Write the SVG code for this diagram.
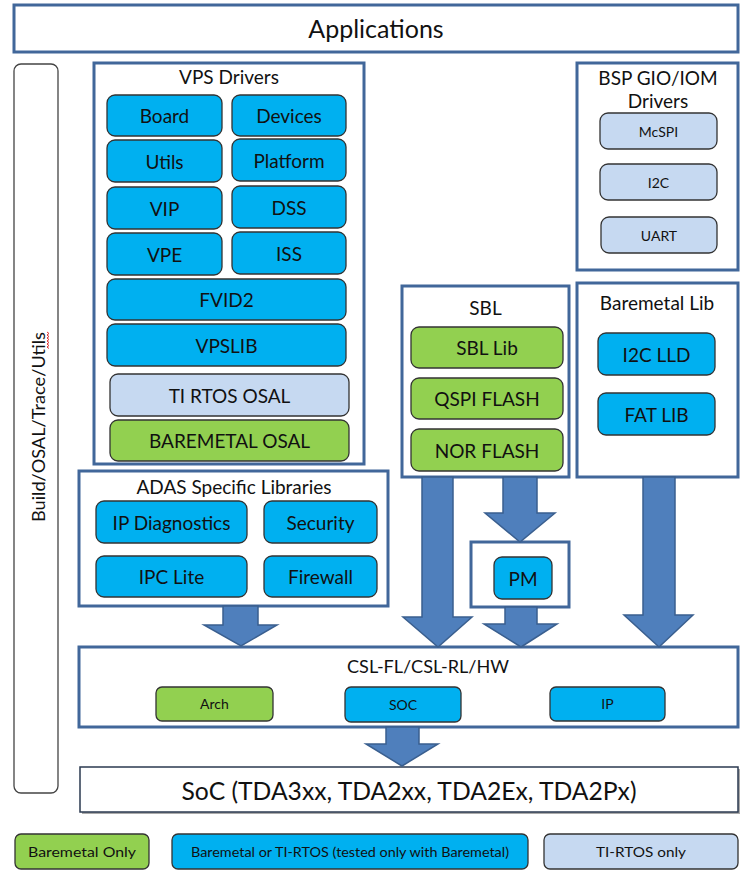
<svg xmlns="http://www.w3.org/2000/svg" width="740" height="870" viewBox="0 0 740 870">
<style>
  text { font-family: Lato, "Open Sans", "Liberation Sans", sans-serif; fill: #111; text-anchor: middle; dominant-baseline: central; }
  .cont { fill: #fff; stroke: #41679a; stroke-width: 3; }
  .node { stroke: #333; stroke-width: 1.3; }
  .blue { fill: #00b0f0; }
  .green { fill: #92d050; }
  .lite { fill: #c6d9f1; }
  .t17 { font-size: 19px; }
  .t14 { font-size: 14px; }
  .title { font-size: 19px; }
  .arrow { fill: #4f7fbc; stroke: #3a5f8f; stroke-width: 1.5; }
</style>

<g id="applications">
  <rect class="cont" x="14" y="5" width="724" height="47"/>
  <text x="376" y="28" style="font-size:25px">Applications</text>
</g>

<g id="build-utils">
  <rect x="14" y="64" width="44" height="729" rx="7" fill="#fff" stroke="#444" stroke-width="1.3"/>
  <text transform="translate(38,427) rotate(-90)" style="font-size:17px" textLength="190" lengthAdjust="spacingAndGlyphs">Build/OSAL/Trace/Utils</text>
  <path d="M47,332 l2,1.5 l-2,1.5 l2,1.5 l-2,1.5 l2,1.5 l-2,1.5 l2,1.5 l-2,1.5 l2,1.5 l-2,1.5 l2,1.5" fill="none" stroke="#e03030" stroke-width="1"/>
</g>

<g id="vps-drivers">
  <rect class="cont" x="94" y="63" width="270" height="401"/>
  <text class="title" x="229" y="76">VPS Drivers</text>
</g>
<g id="board"><rect class="node blue" x="107" y="95" width="115" height="41" rx="8"/><text class="t17" x="164.5" y="115.5">Board</text></g>
<g id="devices"><rect class="node blue" x="232" y="95" width="114" height="41" rx="8"/><text class="t17" x="289" y="115.5">Devices</text></g>
<g id="utils"><rect class="node blue" x="107" y="140" width="115" height="42" rx="8"/><text class="t17" x="164.5" y="161">Utils</text></g>
<g id="platform"><rect class="node blue" x="232" y="139" width="114" height="42" rx="8"/><text class="t17" x="289" y="160">Platform</text></g>
<g id="vip"><rect class="node blue" x="107" y="187" width="115" height="42" rx="8"/><text class="t17" x="164.5" y="208">VIP</text></g>
<g id="dss"><rect class="node blue" x="232" y="186" width="114" height="42" rx="8"/><text class="t17" x="289" y="207">DSS</text></g>
<g id="vpe"><rect class="node blue" x="107" y="233" width="115" height="42" rx="8"/><text class="t17" x="164.5" y="254">VPE</text></g>
<g id="iss"><rect class="node blue" x="232" y="232" width="114" height="42" rx="8"/><text class="t17" x="289" y="253">ISS</text></g>
<g id="fvid2"><rect class="node blue" x="107" y="279" width="239" height="41" rx="8"/><text class="t17" x="226.5" y="299.5">FVID2</text></g>
<g id="vpslib"><rect class="node blue" x="107" y="324" width="239" height="42" rx="8"/><text class="t17" x="226.5" y="345">VPSLIB</text></g>
<g id="ti-rtos-osal"><rect class="node lite" x="110" y="374" width="239" height="42" rx="8"/><text class="t17" x="229.5" y="395">TI RTOS OSAL</text></g>
<g id="baremetal-osal"><rect class="node green" x="110" y="420" width="239" height="41" rx="8"/><text class="t17" x="229.5" y="440.5">BAREMETAL OSAL</text></g>

<g id="bsp-gio-iom">
  <rect class="cont" x="577" y="63" width="161" height="207"/>
  <text class="title" x="658" y="77">BSP GIO/IOM</text>
  <text class="title" x="658" y="100">Drivers</text>
</g>
<g id="mcspi"><rect class="node lite" x="600" y="113" width="117" height="36" rx="8"/><text class="t14" x="658.5" y="131">McSPI</text></g>
<g id="i2c"><rect class="node lite" x="600" y="164" width="117" height="36" rx="8"/><text class="t14" x="658.5" y="182">I2C</text></g>
<g id="uart"><rect class="node lite" x="601" y="217" width="116" height="36" rx="8"/><text class="t14" x="659" y="235">UART</text></g>

<g id="sbl">
  <rect class="cont" x="402" y="286" width="167" height="191"/>
  <text class="title" x="485.5" y="307">SBL</text>
</g>
<g id="sbl-lib"><rect class="node green" x="411" y="327" width="152" height="41" rx="8"/><text class="t17" x="487" y="347.5">SBL Lib</text></g>
<g id="qspi-flash"><rect class="node green" x="411" y="378" width="152" height="41" rx="8"/><text class="t17" x="487" y="398.5">QSPI FLASH</text></g>
<g id="nor-flash"><rect class="node green" x="411" y="429" width="152" height="42" rx="8"/><text class="t17" x="487" y="450">NOR FLASH</text></g>

<g id="baremetal-lib">
  <rect class="cont" x="577" y="283" width="161" height="194"/>
  <text class="title" x="657" y="302">Baremetal Lib</text>
</g>
<g id="i2c-lld"><rect class="node blue" x="598" y="333" width="117" height="42" rx="8"/><text class="t17" x="656.5" y="354">I2C LLD</text></g>
<g id="fat-lib"><rect class="node blue" x="598" y="393" width="117" height="42" rx="8"/><text class="t17" x="656.5" y="414">FAT LIB</text></g>

<g id="adas">
  <rect class="cont" x="79" y="471" width="309" height="135"/>
  <text class="title" x="234" y="486">ADAS Specific Libraries</text>
</g>
<g id="ip-diagnostics"><rect class="node blue" x="96" y="501" width="151" height="42" rx="8"/><text class="t17" x="171.5" y="522">IP Diagnostics</text></g>
<g id="security"><rect class="node blue" x="264" y="501" width="113" height="42" rx="8"/><text class="t17" x="320.5" y="522">Security</text></g>
<g id="ipc-lite"><rect class="node blue" x="96" y="556" width="151" height="41" rx="8"/><text class="t17" x="171.5" y="576.5">IPC Lite</text></g>
<g id="firewall"><rect class="node blue" x="264" y="556" width="113" height="41" rx="8"/><text class="t17" x="320.5" y="576.5">Firewall</text></g>

<g id="pm-box">
  <rect class="cont" x="471" y="542" width="98" height="65"/>
</g>
<g id="pm"><rect class="node blue" x="494" y="557" width="58" height="42" rx="8"/><text class="t17" x="523" y="578">PM</text></g>

<g id="csl">
  <rect class="cont" x="79" y="647" width="659" height="80"/>
  <text x="428" y="666" style="font-size:17px" textLength="162" lengthAdjust="spacingAndGlyphs">CSL-FL/CSL-RL/HW</text>
</g>
<g id="arch"><rect class="node green" x="156" y="687" width="117" height="34" rx="6"/><text class="t14" x="214.5" y="703">Arch</text></g>
<g id="soc-node"><rect class="node blue" x="345" y="687" width="116" height="35" rx="6"/><text class="t14" x="403" y="704">SOC</text></g>
<g id="ip"><rect class="node blue" x="550" y="687" width="115" height="34" rx="6"/><text class="t14" x="607.5" y="703">IP</text></g>

<g id="soc">
  <rect x="82" y="769" width="658" height="45" fill="#555" opacity="0.5"/>
  <rect x="80" y="767" width="658" height="45" fill="#fff" stroke="#2b3a50" stroke-width="1.5"/>
  <text x="409" y="790" style="font-size:25px" textLength="455" lengthAdjust="spacingAndGlyphs">SoC (TDA3xx, TDA2xx, TDA2Ex, TDA2Px)</text>
</g>

<g id="connectors">
  <polygon class="arrow" points="223,606 258,606 258,625 277,625 241,646 204,625 223,625"/>
  <polygon class="arrow" points="422,477 453,477 453,617 472,617 438,647 403,617 422,617"/>
  <polygon class="arrow" points="503,477 537,477 537,513 555,513 520,542 485,513 503,513"/>
  <polygon class="arrow" points="505,607 537,607 537,624 557,624 521,647 484,624 505,624"/>
  <polygon class="arrow" points="643,477 675,477 675,615 693,615 659,647 624,615 643,615"/>
  <polygon class="arrow" points="386,727 419,727 419,744 438,744 402,766 366,744 386,744"/>
</g>

<g id="legend-baremetal-only"><rect class="node green" x="15" y="834" width="134" height="35" rx="6"/><text x="82" y="851.5" style="font-size:14px" textLength="108" lengthAdjust="spacingAndGlyphs">Baremetal Only</text></g>
<g id="legend-both"><rect class="node blue" x="172" y="834" width="356" height="35" rx="6"/><text x="350" y="851.5" style="font-size:14px" textLength="318" lengthAdjust="spacingAndGlyphs">Baremetal or TI-RTOS (tested only with Baremetal)</text></g>
<g id="legend-ti-rtos"><rect class="node lite" x="544" y="834" width="194" height="35" rx="6"/><text x="641" y="851.5" style="font-size:14px" textLength="90" lengthAdjust="spacingAndGlyphs">TI-RTOS only</text></g>
</svg>
